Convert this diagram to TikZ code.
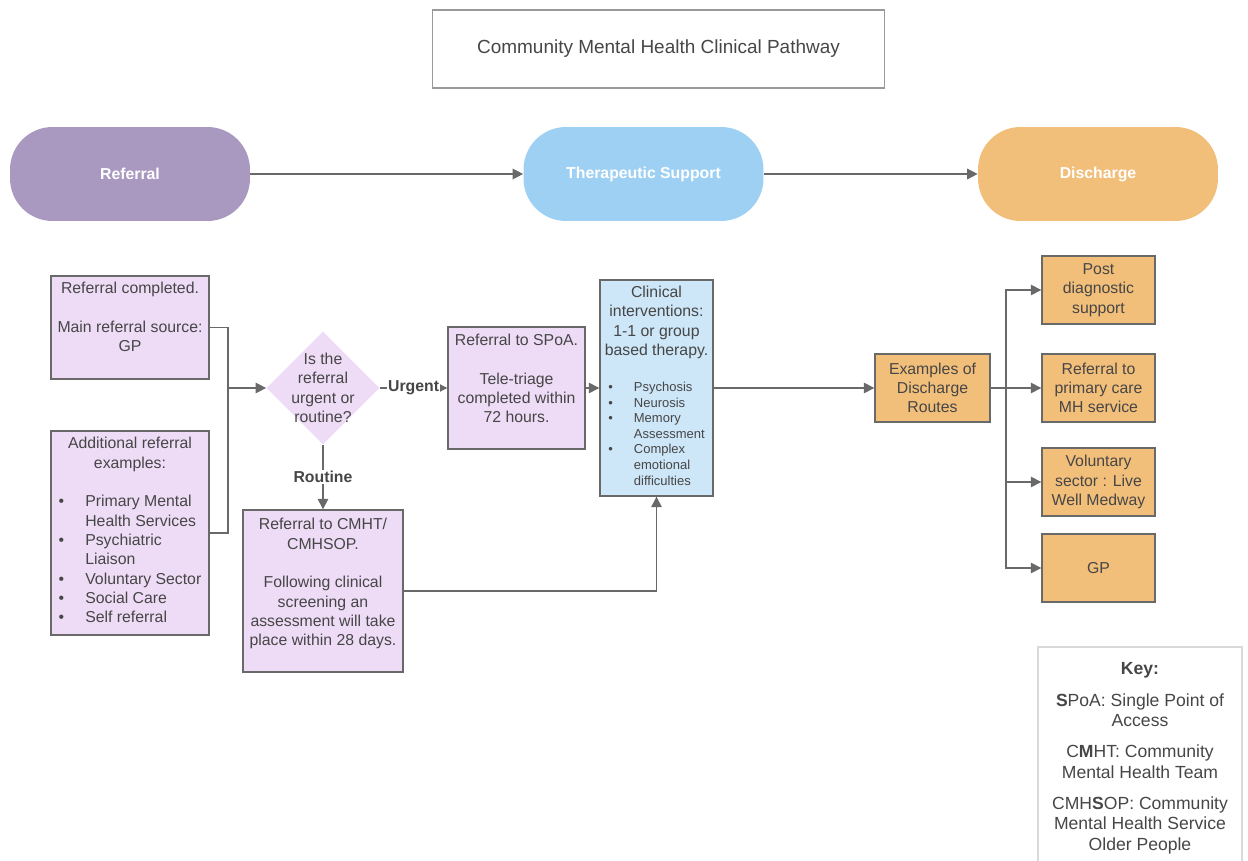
\documentclass[tikz,border=0pt]{standalone}
\usepackage{fontspec}
\setmainfont{Liberation Sans}
\usetikzlibrary{shapes.geometric, arrows.meta, positioning}
\definecolor{refpurple}{RGB}{169,153,192}
\definecolor{therblue}{RGB}{157,208,243}
\definecolor{disorange}{RGB}{242,191,122}
\definecolor{lilac}{RGB}{238,220,247}
\definecolor{paleblue}{RGB}{205,230,248}
\definecolor{edge}{RGB}{105,105,105}
\definecolor{ink}{RGB}{70,70,70}

\begin{document}
\begin{tikzpicture}[x=0.02cm, y=-0.02cm,
    font=\fontsize{9}{11}\selectfont, text=ink, align=center,
    pill/.style={rounded corners=0.85cm, minimum width=4.8cm, minimum height=1.88cm, text=white, font=\fontsize{9}{11}\selectfont\bfseries},
    box/.style={draw=edge, line width=0.8pt, inner sep=2pt},
    lbox/.style={box, fill=lilac},
    obox/.style={box, fill=disorange, minimum width=2.26cm, minimum height=1.36cm},
    conn/.style={draw=edge, line width=0.8pt},
    arr/.style={conn, -{Triangle[length=6pt, width=6pt]}},
    lab/.style={fill=white, inner sep=0.5pt, font=\fontsize{9}{11}\selectfont\bfseries}]
    \useasboundingbox (0,0) rectangle (1248,861);

    \node[draw=black!40, line width=0.6pt, minimum width=9.06cm, minimum height=1.56cm, font=\fontsize{10.8}{13}\selectfont] (title) at (658.5,49) {Community Mental Health Clinical Pathway};

    \node[pill, fill=refpurple] (referral) at (130,174) {Referral};
    \node[pill, fill=therblue] (therapy) at (643.5,174) {Therapeutic Support};
    \node[pill, fill=disorange] (discharge) at (1098,174) {Discharge};
    \draw[arr] (referral) -- (therapy);
    \draw[arr] (therapy) -- (discharge);

    \node[lbox, minimum width=3.16cm, minimum height=2.06cm, text depth=12pt] (main) at (130,327.5) {Referral completed.\\[11pt] Main referral source:\\GP};
    \node[lbox, minimum width=3.16cm, minimum height=4.08cm] (extra) at (130,533) {Additional referral\\examples:\\[11pt]
        \begin{tabular}[t]{@{}l@{\hspace{12pt}}l@{}}
            \textbullet & Primary Mental\\ & Health Services\\ \textbullet & Psychiatric\\ & Liaison\\
            \textbullet & Voluntary Sector\\ \textbullet & Social Care\\ \textbullet & Self referral
        \end{tabular}};

    \node[diamond, fill=lilac, minimum width=2.26cm, minimum height=2.26cm, inner sep=0pt,
        label={[align=center, text=ink]center:Is the\\referral\\urgent or\\routine?}] (decide) at (323,388) {};

    \node[lbox, minimum width=2.74cm, minimum height=2.44cm, text depth=11pt] (spoa) at (516.5,388) {Referral to SPoA.\\[11pt] Tele-triage\\completed within\\72 hours.};
    \node[lbox, minimum width=3.2cm, minimum height=3.24cm, text depth=10pt] (cmht) at (323,591) {Referral to CMHT/\\CMHSOP.\\[11pt] Following clinical\\screening an\\assessment will take\\place within 28 days.};

    \node[box, fill=paleblue, minimum width=2.26cm, minimum height=4.32cm] (clinic) at (656.5,388) {Clinical\\interventions:\\1-1 or group\\based therapy.\\[9.4pt]
        {\fontsize{7.4}{8.9}\selectfont\begin{tabular}[t]{@{}l@{\hspace{12pt}}l@{}}
            \textbullet & Psychosis\\ \textbullet & Neurosis\\ \textbullet & Memory\\ & Assessment\\
            \textbullet & Complex\\ & emotional\\ & difficulties
        \end{tabular}}};

    \node[obox, minimum width=2.3cm] (routes) at (932.5,388) {Examples of\\Discharge\\Routes};
    \node[obox] (post) at (1098.5,290) {Post\\diagnostic\\support};
    \node[obox] (primary) at (1098.5,388) {Referral to\\primary care\\MH service};
    \node[obox] (vol) at (1098.5,482) {Voluntary\\sector : Live\\Well Medway};
    \node[obox] (gp) at (1098.5,568) {GP};

    \coordinate (merge) at (228,388);
    \draw[conn] (main.east) -| (merge) |- (extra.east);
    \draw[arr] (merge) -- (decide);
    \draw[arr] (decide) -- node[lab]{Urgent} (spoa);
    \draw[arr] (decide) -- node[lab]{Routine} (cmht);
    \draw[arr] (spoa) -- (clinic);
    \draw[arr] (cmht) -| (clinic);
    \draw[arr] (clinic) -- (routes);
    \coordinate (split) at (1006,388);
    \draw[conn] (routes) -- (split);
    \foreach \d in {post, primary, vol, gp}
        \draw[arr] (split) |- (\d);

    \node[anchor=north, inner sep=2pt, font=\fontsize{10}{11.7}\selectfont] (key) at (1140,659) {\textbf{Key:}\\[6pt]
        \textbf{S}PoA: Single Point of\\Access\\[6pt]
        C\textbf{M}HT: Community\\Mental Health Team\\[6pt]
        CMH\textbf{S}OP: Community\\Mental Health Service\\Older People};
    \draw[draw=black!15, line width=0.8pt] (1038,861) |- (1242,647) -- (1242,861);
\end{tikzpicture}
\end{document}
